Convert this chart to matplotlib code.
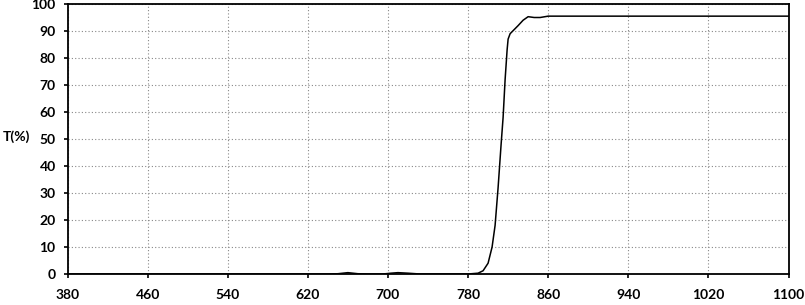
import matplotlib.pyplot as plt
import numpy as np

# transmission curve
wl = [380, 640, 650, 660, 670, 680, 695, 703, 710, 720, 732, 780, 790, 795,
      800, 804, 807, 810, 813, 815, 817, 819, 820, 822, 826, 830, 835, 840,
      846, 852, 860, 900, 1000, 1100]
T = [0, 0, 0.1, 0.5, 0.1, 0, 0, 0.3, 0.5, 0.3, 0, 0, 0.3, 1.2,
     4.0, 10, 18, 32, 48, 58, 72, 83, 87, 89, 90.5, 92, 94, 95.3,
     95.0, 95.0, 95.5, 95.5, 95.5, 95.5]

xticks = np.arange(380, 1101, 80)
yticks = np.arange(0, 101, 10)

plt.rcParams['font.family'] = ['Lato', 'DejaVu Sans']
fig = plt.figure(figsize=(8.05, 3.05), dpi=100)
ax = fig.add_axes([67.5/805, 31/305, 721/805, 270/305])
ax.plot(wl, T, color='black', lw=1.1)
ax.set_xlim(380, 1100)
ax.set_ylim(0, 100)
ax.set_xticks(xticks)
ax.set_yticks(yticks)
ax.grid(True, color='#888888', ls=(0, (1, 2)), lw=0.8)
for s in ax.spines.values():
    s.set_linewidth(1.3)
ax.tick_params(axis='x', direction='out', length=3, width=1.2, pad=8, labelsize=10)
ax.tick_params(axis='y', direction='out', length=3, width=1.2, pad=5.5, labelsize=10)
for lab in ax.get_xticklabels() + ax.get_yticklabels():
    lab.set_fontweight('bold')
fig.text(3/805, 1 - 137/305, 'T(%)', fontsize=10, fontweight='bold', va='center', ha='left')
fig.savefig('out.png', dpi=100)
